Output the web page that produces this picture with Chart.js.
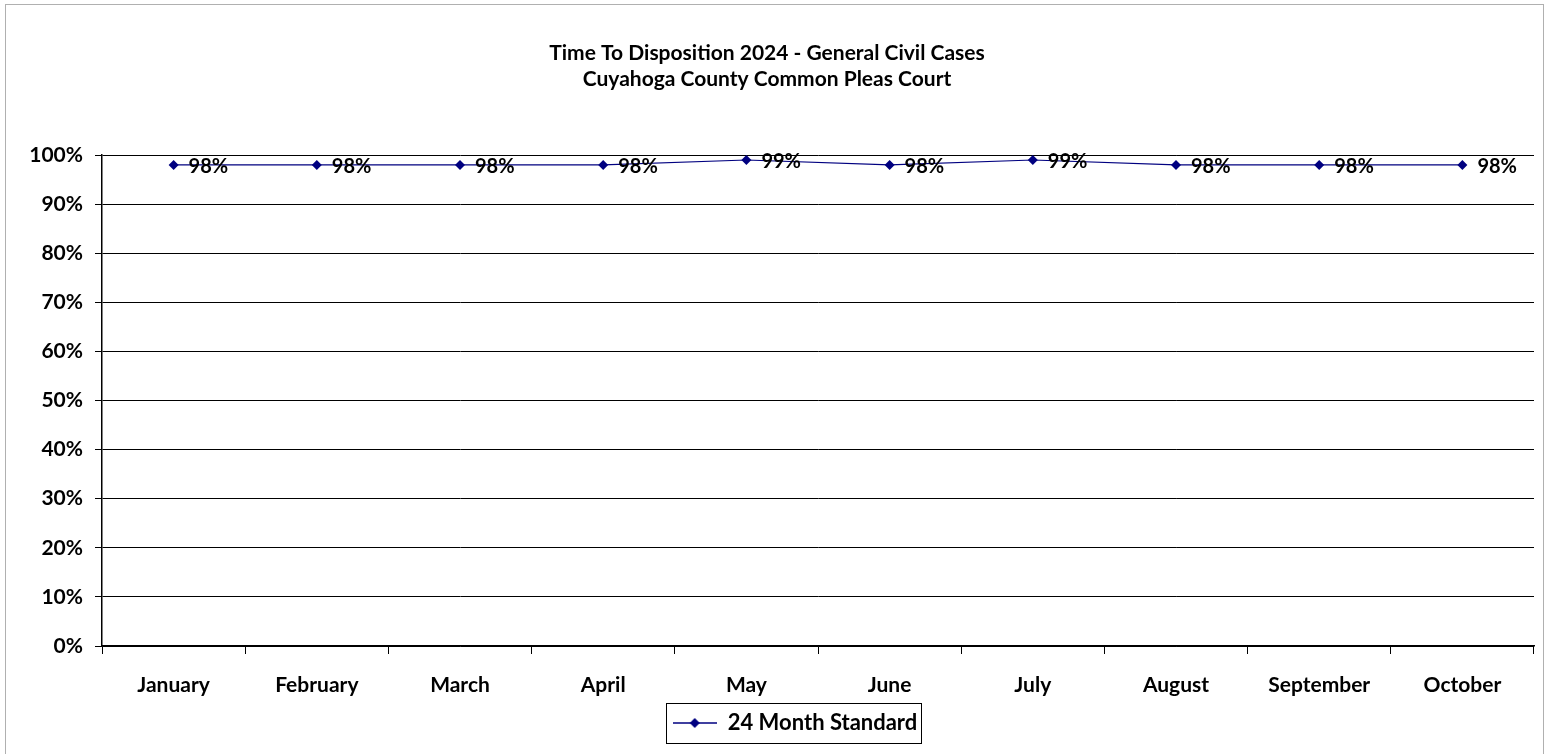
<!DOCTYPE html>
<html>
<head>
<meta charset="utf-8">
<script src="https://cdn.jsdelivr.net/npm/chart.js@4/dist/chart.umd.min.js"></script>
<style>
  html, body { margin: 0; padding: 0; background: #fff; }
  #wrap { position: relative; width: 1549px; height: 754px; }
  #frame { position: absolute; left: 5px; top: 4px; width: 1537px; height: 760px; border: 1px solid #b0b0b0; pointer-events: none; }
</style>
</head>
<body>
<div id="wrap">
  <canvas id="chart" width="1549" height="754"></canvas>
  <div id="frame"></div>
</div>
<script>
// Data
const months = ['January', 'February', 'March', 'April', 'May', 'June', 'July', 'August', 'September', 'October'];
const standard24 = [0.98, 0.98, 0.98, 0.98, 0.99, 0.98, 0.99, 0.98, 0.98, 0.98];
const titleLines = ['Time To Disposition 2024 - General Civil Cases', 'Cuyahoga County Common Pleas Court'];
const seriesName = '24 Month Standard';

const FONT = 'Lato, "Open Sans", sans-serif';
const NAVY = '#000080';

// legend sample: line with diamond
const legendIcon = document.createElement('canvas');
legendIcon.width = 44;
legendIcon.height = 12;
(function () {
    const c = legendIcon.getContext('2d');
    c.strokeStyle = NAVY;
    c.lineWidth = 1.5;
    c.beginPath();
    c.moveTo(0, 6);
    c.lineTo(44, 6);
    c.stroke();
    c.fillStyle = NAVY;
    c.beginPath();
    c.moveTo(22, 1);
    c.lineTo(27, 6);
    c.lineTo(22, 11);
    c.lineTo(17, 6);
    c.closePath();
    c.fill();
})();

// value labels next to each point
const valueLabels = {
    id: 'valueLabels',
    afterDatasetsDraw(chart) {
        const ctx = chart.ctx;
        const meta = chart.getDatasetMeta(0);
        ctx.save();
        ctx.font = 'bold 20px ' + FONT;
        ctx.fillStyle = '#000';
        ctx.textAlign = 'left';
        ctx.textBaseline = 'middle';
        meta.data.forEach((pt, i) => {
            const v = chart.data.datasets[0].data[i];
            ctx.fillText(Math.round(v * 100) + '%', pt.x + 15, pt.y + 2);
        });
        ctx.restore();
    }
};

// legend sits a bit right of the canvas centre, with a border round it
const legendBox = {
    id: 'legendBox',
    afterLayout(chart) {
        chart.legend.left += 28;
        chart.legend.right += 28;
    },
    afterDraw(chart) {
        const box = chart.legend.legendHitBoxes[0];
        if (!box) return;
        const ctx = chart.ctx;
        ctx.save();
        ctx.strokeStyle = '#000';
        ctx.lineWidth = 1;
        const cy = box.top + box.height / 2;
        ctx.strokeRect(Math.round(box.left) - 6.5, Math.round(cy - 20) + 0.5, Math.round(box.width) + 10, 40);
        ctx.restore();
    }
};

const ctx = document.getElementById('chart').getContext('2d');
const chart = new Chart(ctx, {
    type: 'line',
    data: {
        labels: months,
        datasets: [{
            label: seriesName,
            data: standard24,
            borderColor: NAVY,
            backgroundColor: NAVY,
            borderWidth: 1.2,
            tension: 0,
            pointStyle: 'rectRot',
            pointRadius: 5,
            pointBackgroundColor: NAVY,
            pointBorderColor: NAVY,
            pointBorderWidth: 0
        }]
    },
    options: {
        responsive: false,
        animation: false,
        layout: {
            padding: { left: 0, right: 15, top: 0, bottom: 10 }
        },
        plugins: {
            title: {
                display: true,
                text: titleLines,
                color: '#000',
                font: { family: FONT, size: 21, weight: 'bold', lineHeight: 1.24 },
                padding: { top: 40, bottom: 63 }
            },
            legend: {
                display: true,
                position: 'bottom',
                labels: {
                    usePointStyle: true,
                    pointStyle: legendIcon,
                    pointStyleWidth: 44,
                    color: '#000',
                    font: { family: FONT, size: 22, weight: 'bold' },
                    padding: 16,
                    generateLabels(chart) {
                        return [{
                            text: seriesName,
                            pointStyle: legendIcon,
                            fillStyle: NAVY,
                            strokeStyle: NAVY,
                            lineWidth: 0,
                            datasetIndex: 0
                        }];
                    }
                }
            },
            tooltip: { enabled: false }
        },
        scales: {
            x: {
                offset: true,
                grid: {
                    offset: true,
                    drawOnChartArea: false,
                    drawTicks: true,
                    tickLength: 8,
                    color: '#000',
                    lineWidth: 1
                },
                border: { display: true, color: '#000', width: 1.5 },
                ticks: {
                    color: '#000',
                    font: { family: FONT, size: 21, weight: 'bold' },
                    padding: 19,
                    maxRotation: 0,
                    autoSkip: false
                },
                afterFit(scale) { scale.height = 50; }
            },
            y: {
                min: 0,
                max: 1,
                grid: {
                    color: '#000',
                    lineWidth: 1,
                    tickLength: 7,
                    drawTicks: true
                },
                border: { display: true, color: '#000', width: 1.5 },
                ticks: {
                    stepSize: 0.1,
                    color: '#000',
                    font: { family: FONT, size: 21, weight: 'bold' },
                    padding: 12,
                    callback: v => Math.round(v * 100) + '%'
                },
                afterFit(scale) { scale.width = 102; }
            }
        }
    },
    plugins: [valueLabels, legendBox]
});
</script>
</body>
</html>
